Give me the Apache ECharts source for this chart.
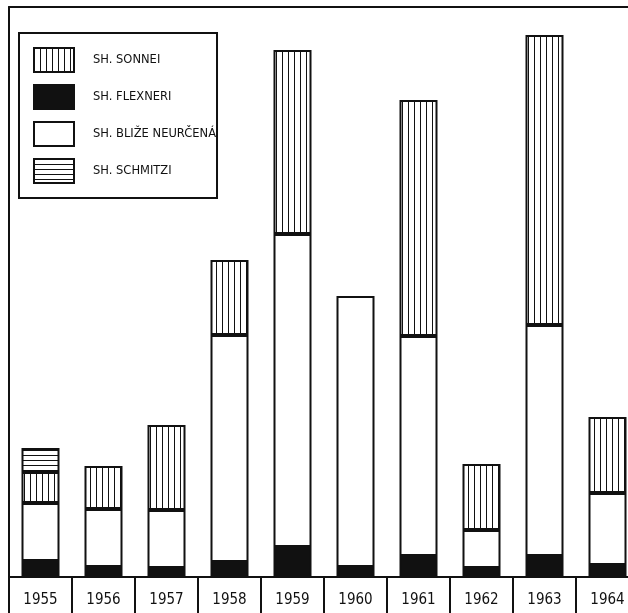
<!DOCTYPE html>
<html>
<head>
<meta charset="utf-8">
<script src="https://cdn.jsdelivr.net/npm/echarts@6/dist/echarts.min.js"></script>
<style>
html,body{margin:0;padding:0;background:#fff;overflow:hidden;width:628px;height:613px;}
#chart{width:650px;height:613px;}
</style>
</head>
<body>
<div id="chart"></div>
<script>
const categories = ['1955','1956','1957','1958','1959','1960','1961','1962','1963','1964'];
const flexneri = [16, 10, 9, 15, 30, 10, 21, 9, 21, 12];
const blizeNeurcena = [58, 58, 58, 227, 313, 271, 220, 38, 231, 72];
const sonnei = [31, 43, 85, 75, 184, null, 236, 66, 290, 76];
const schmitzi = [24, null, null, null, null, null, null, null, null, null];
const seriesNames = ['SH. SONNEI', 'SH. FLEXNERI', 'SH. BLIŽE NEURČENÁ', 'SH. SCHMITZI'];

function hatch(vertical, step) {
  const c = document.createElement('canvas');
  c.width = step; c.height = step;
  const ctx = c.getContext('2d');
  ctx.fillStyle = '#fff';
  ctx.fillRect(0, 0, step, step);
  ctx.fillStyle = '#111';
  if (vertical) ctx.fillRect(0, 0, 1, step);
  else ctx.fillRect(0, 0, step, 1);
  return { image: c, repeat: 'repeat' };
}

const ink = '#111';
const chart = echarts.init(document.getElementById('chart'), null, { renderer: 'canvas' });
const barBase = { type: 'bar', stack: 'total', barWidth: 38, xAxisIndex: 0 };
chart.setOption({
  animation: false,
  backgroundColor: '#fff',
  grid: { left: 9, top: 7, right: 11, bottom: 36 },
  legend: {
    orient: 'vertical', left: 19, top: 33,
    padding: [14, 1, 14, 14],
    borderColor: ink, borderWidth: 2,
    itemWidth: 40, itemHeight: 24, itemGap: 11,
    icon: 'rect',
    itemStyle: { borderColor: ink, borderWidth: 2 },
    textStyle: { fontFamily: 'DejaVu Sans', fontSize: 11.5, color: ink, padding: [0, 0, 0, 14] },
    data: seriesNames
  },
  xAxis: [{
    type: 'category', data: categories, position: 'bottom',
    axisLine: { show: true, lineStyle: { color: ink, width: 2 } },
    axisTick: { show: true, length: 40, lineStyle: { color: ink, width: 2 } },
    axisLabel: { fontFamily: "'DejaVu Sans Condensed', Roboto, sans-serif", fontSize: 15, color: ink, margin: 16 },
    splitLine: { show: false }
  }, {
    type: 'category', data: categories, position: 'top',
    axisLine: { show: true, lineStyle: { color: ink, width: 2 } },
    axisTick: { show: false }, axisLabel: { show: false }
  }],
  yAxis: {
    type: 'value', min: 0, max: 570,
    axisLine: { show: true, lineStyle: { color: ink, width: 2 } },
    axisTick: { show: false }, axisLabel: { show: false }, splitLine: { show: false }
  },
  series: [
    Object.assign({}, barBase, { name: 'SH. FLEXNERI', data: flexneri,
      itemStyle: { color: ink, borderColor: ink, borderWidth: 2 } }),
    Object.assign({}, barBase, { name: 'SH. BLIŽE NEURČENÁ', data: blizeNeurcena,
      itemStyle: { color: '#fff', borderColor: ink, borderWidth: 2 } }),
    Object.assign({}, barBase, { name: 'SH. SONNEI', data: sonnei,
      itemStyle: { color: hatch(true, 6), borderColor: ink, borderWidth: 2 } }),
    Object.assign({}, barBase, { name: 'SH. SCHMITZI', data: schmitzi,
      itemStyle: { color: hatch(false, 5), borderColor: ink, borderWidth: 2 } })
  ]
});
</script>
</body>
</html>
